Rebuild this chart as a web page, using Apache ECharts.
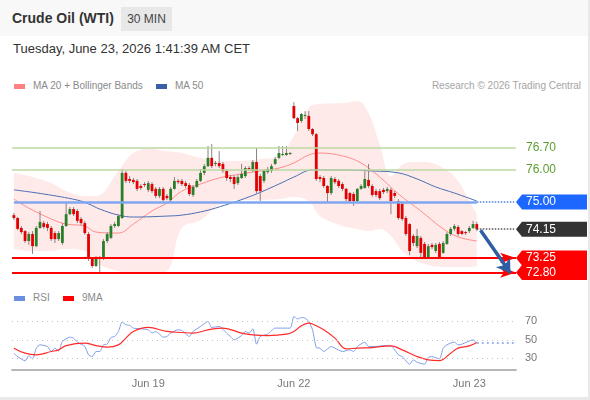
<!DOCTYPE html>
<html>
<head>
<meta charset="utf-8">
<script src="https://cdn.jsdelivr.net/npm/echarts@6/dist/echarts.min.js"></script>
<style>
html, body { margin: 0; padding: 0; width: 590px; height: 400px; overflow: hidden; background: #e9e9e9;
  font-family: "Liberation Sans", Arial, sans-serif; }
#card { position: absolute; left: 0; top: 0; width: 588px; height: 397px; background: #fff; }
#head { position: absolute; left: 0; top: 0; width: 588px; height: 36px; background: #f8f8f8; }
#title { position: absolute; left: 12px; top: 10px; font-size: 14px; font-weight: bold; color: #333; }
#badge { position: absolute; left: 121px; top: 7px; width: 51px; height: 24px; line-height: 24px; text-align: center;
  background: #e8e8e8; color: #444; font-size: 12px; }
#date { position: absolute; left: 13px; top: 41px; font-size: 13px; color: #333; }
.leg { position: absolute; font-size: 10px; color: #8a8a8a; line-height: 12px; }
.sw { position: absolute; width: 11px; height: 5px; }
#chart { position: absolute; left: 0; top: 0; width: 590px; height: 400px; }
</style>
</head>
<body>
<div id="card">
  <div id="head"></div>
  <div id="title">Crude Oil (WTI)</div>
  <div id="badge">30 MIN</div>
  <div id="date">Tuesday, June 23, 2026 1:41:39 AM CET</div>
  <div class="sw" style="left:14px;top:84px;background:#ff8080"></div>
  <div class="leg" style="left:33px;top:80px">MA 20 + Bollinger Bands</div>
  <div class="sw" style="left:156px;top:84px;background:#3b5ea8"></div>
  <div class="leg" style="left:175px;top:80px">MA 50</div>
  <div class="leg" style="right:7px;top:80px;color:#a5a5a5">Research © 2026 Trading Central</div>
  <div class="sw" style="left:14px;top:296px;background:#6b8ee0"></div>
  <div class="leg" style="left:33px;top:292px">RSI</div>
  <div class="sw" style="left:63px;top:296px;background:#ff0000"></div>
  <div class="leg" style="left:82px;top:292px">9MA</div>
</div>
<div id="chart"></div>
<script>
// 30 min bars: open, close, low, high
var candles = [
  [74.59,74.50,74.44,74.66],[74.50,74.16,74.12,74.53],[74.19,74.06,74.00,74.25],[74.09,73.78,73.72,74.12],
  [73.78,74.00,73.66,74.06],[74.00,73.62,73.38,74.09],[73.62,74.19,73.59,74.25],[74.19,74.38,74.16,74.72],
  [74.34,74.22,74.16,74.41],[74.31,74.19,74.09,74.38],[74.19,73.84,73.78,74.25],[74.03,73.84,73.72,74.09],
  [73.84,74.03,73.78,74.09],[73.72,74.25,73.66,74.34],[74.25,74.62,74.22,74.97],[74.62,74.78,74.59,74.84],
  [74.78,74.62,74.56,74.84],[74.72,74.41,74.34,74.78],[74.47,74.34,74.28,74.53],[74.34,74.03,73.97,74.41],
  [74.00,73.25,73.16,74.06],[73.25,73.00,72.94,73.28],[73.00,73.25,72.97,73.31],[73.25,73.22,72.78,73.31],
  [73.22,73.78,73.19,73.84],[73.78,74.00,73.72,74.06],[73.88,74.25,73.84,74.31],[74.25,74.31,74.19,74.38],
  [74.25,74.56,74.22,74.62],[74.50,75.91,74.47,76.03],[75.91,75.66,75.59,75.97],[75.72,75.66,75.59,75.81],
  [75.69,75.62,75.56,75.75],[75.66,75.41,75.34,75.72],[75.50,75.44,75.38,75.56],[75.56,75.53,75.47,75.62],
  [75.38,75.59,75.31,75.66],[75.56,75.34,75.28,75.62],[75.41,75.19,75.12,75.47],[75.19,75.41,75.12,75.47],
  [75.41,75.06,75.03,75.47],[75.19,75.12,75.06,75.25],[75.06,75.41,75.00,75.47],[75.41,75.66,75.38,75.78],
  [75.66,75.62,75.56,75.72],[75.66,75.56,75.50,75.72],[75.59,75.50,75.44,75.66],[75.53,75.25,75.19,75.59],
  [75.22,75.47,75.16,75.53],[75.47,75.66,75.44,75.72],[75.66,75.91,75.62,76.03],[75.91,76.12,75.84,76.19],
  [76.12,76.38,76.09,76.75],[76.38,76.12,76.06,76.81],[76.19,76.22,76.12,76.28],[76.22,76.12,76.06,76.59],
  [76.19,75.97,75.91,76.25],[75.97,75.75,75.66,76.03],[75.78,75.72,75.62,75.84],[75.78,75.56,75.41,75.84],
  [75.59,75.78,75.53,75.84],[75.75,75.88,75.72,76.19],[75.81,76.06,75.75,76.12],[76.06,76.03,75.97,76.12],
  [75.97,76.25,75.94,76.31],[76.25,75.34,75.28,76.69],[75.81,75.34,75.03,75.88],[75.66,75.97,75.59,76.03],
  [75.94,76.03,75.88,76.09],[75.97,76.12,75.91,76.19],[76.19,76.34,76.16,76.41],[76.38,76.53,76.34,76.75],
  [76.47,76.50,76.44,76.75],[76.47,76.53,76.44,76.75],[76.50,76.53,76.47,76.56],[78.00,77.62,77.59,78.12],
  [77.62,77.47,77.22,77.66],[77.53,77.75,77.47,77.78],[77.69,77.72,77.59,77.84],[77.69,77.28,77.22,77.84],
  [77.28,77.12,77.06,77.31],[77.12,75.72,75.66,77.16],[75.78,75.72,75.62,75.84],[75.75,75.50,75.44,75.81],
  [75.50,75.28,74.97,75.53],[75.28,75.75,75.22,75.81],[75.72,75.62,75.56,75.78],[75.66,75.50,75.44,75.72],
  [75.56,75.41,75.34,75.62],[75.41,75.09,75.03,75.44],[75.28,75.03,74.97,75.31],[75.25,75.03,74.88,75.31],
  [75.03,75.41,74.97,75.44],[75.41,75.50,75.38,75.56],[75.44,75.72,75.41,76.03],[75.69,75.50,75.44,76.19],
  [75.50,75.22,75.16,75.56],[75.34,75.22,75.16,75.41],[75.34,75.12,75.06,75.41],[75.38,75.31,75.25,75.44],
  [75.34,75.41,75.28,75.47],[75.38,75.03,74.62,75.44],[75.28,75.19,75.12,75.34],[75.03,74.50,74.44,75.09],
  [74.94,74.47,74.41,75.00],[74.50,74.00,73.94,74.56],[74.31,73.47,73.34,74.34],[73.94,73.72,73.62,74.00],
  [73.62,73.94,73.56,74.16],[73.88,73.41,73.25,73.94],[73.69,73.25,73.22,73.75],[73.25,73.62,73.22,73.69],
  [73.66,73.59,73.53,73.72],[73.47,73.66,73.41,73.72],[73.69,73.25,73.22,73.75],[73.41,73.72,73.38,73.78],
  [73.69,74.00,73.66,74.06],[74.00,74.16,73.94,74.22],[74.16,74.25,74.09,74.31],[74.22,74.00,73.94,74.28],
  [74.09,74.00,73.97,74.12],[74.06,74.03,73.97,74.09],[74.09,74.19,74.03,74.25],[74.19,74.31,74.16,74.41],
  [74.31,74.15,74.09,74.38]
];

// indicator readings: [bar index, value]
var ma20 = [[0,75.09],[4,74.81],[10,74.47],[14,74.31],[19,74.25],[22,74.06],[28,74.03],[32,74.31],[37,74.72],
  [41,74.97],[45,75.34],[50,75.56],[55,75.75],[61,75.88],[66,75.97],[71,76.06],[75,76.22],[79,76.47],[82,76.53],
  [88,76.44],[93,76.22],[98,75.78],[103,75.25],[109,74.72],[115,74.16],[119,73.91],[124,73.78]];
var ma50 = [[0,75.38],[8,75.25],[17,75.06],[20,74.94],[23,74.78],[28,74.59],[32,74.53],[41,74.56],[45,74.59],
  [50,74.69],[54,74.81],[63,75.16],[71,75.56],[75,75.78],[80,76.00],[88,76.00],[96,75.97],[103,75.91],[108,75.72],
  [113,75.47],[118,75.28],[124,75.03]];
var bbUpper = [[0,75.91],[4,75.81],[10,75.59],[14,75.34],[19,75.19],[22,75.19],[28,75.97],[32,76.53],[37,76.66],
  [41,76.59],[45,76.53],[50,76.38],[55,76.28],[61,76.28],[66,76.34],[71,76.44],[75,77.06],[79,77.94],[82,78.06],
  [88,78.09],[92,78.16],[95,77.78],[98,76.80],[101,75.81],[104,76.16],[107,76.25],[110,76.25],[115,76.06],
  [119,75.66],[122,75.03],[124,74.62]];
var bbLower = [[0,73.53],[4,73.47],[10,73.47],[14,73.53],[19,73.47],[22,73.09],[28,72.84],[32,72.78],[37,72.75],
  [41,72.84],[45,74.19],[50,74.44],[55,74.91],[61,75.06],[66,75.06],[71,75.09],[75,75.16],[79,75.03],[82,74.56],
  [88,74.25],[92,74.16],[95,74.09],[98,74.16],[101,73.94],[104,73.47],[107,73.22],[110,73.06],[115,72.97],
  [119,72.97],[122,72.97],[124,73.00]];

var rsi = [[0,35.6],[1,32],[3,27.3],[4,33],[5,29.5],[6,41],[7,44.6],[9,42.8],[10,37.4],[11,41],[12,38],[13,48.2],
  [15,52.9],[16,51.8],[17,47.5],[19,42.8],[20,33.8],[21,32],[22,37.4],[23,37.4],[24,44.6],[25,45.3],[26,52.5],
  [27,53.6],[28,59],[29,69.1],[30,66.2],[31,65.5],[32,62.6],[34,61.9],[36,60.8],[37,57.2],[38,59],[39,56.1],
  [40,52.9],[41,53.6],[42,57.2],[44,60.8],[45,60.1],[47,53.6],[48,59],[50,64.4],[52,69.8],[53,63.3],[55,64.4],
  [57,57.2],[58,53.6],[59,50],[61,54.6],[62,59],[63,57.2],[64,61.9],[65,45.3],[66,53.6],[68,56.1],[70,62.6],
  [74,62.6],[75,75.2],[76,72.4],[77,74],[78,73.4],[79,69.8],[80,60.8],[81,41.7],[82,41],[83,37.4],[85,42.8],
  [86,41],[88,37.4],[90,39.2],[91,37.4],[92,42.8],[94,47.5],[95,42.8],[97,42.8],[99,43.8],[101,43.5],[103,33.8],
  [104,32],[106,23.7],[107,28.4],[108,25.9],[110,23.7],[111,30.9],[112,32],[114,29.5],[115,41],[116,44.6],
  [118,47.5],[119,44.6],[120,45.3],[123,50],[124,46.4]];
var rsiMa = [[0,41],[3,35.6],[6,33.8],[10,37.4],[12,39.2],[14,43.8],[19,46.4],[22,43.8],[25,42.1],[28,44.6],
  [30,51.8],[32,59],[36,63.3],[41,59],[45,57.9],[48,57.2],[52,60.8],[56,62.6],[61,57.2],[64,55.4],[68,54.6],
  [73,56.1],[75,59],[77,65],[79,68],[80,67],[83,60.8],[86,51.8],[89,40.3],[92,41],[96,41.7],[101,43.5],
  [104,39.2],[108,32],[111,28.4],[114,27.6],[117,35.6],[119,41],[122,43.5],[124,47.1]];
var rsiLevels = [30, 50, 70];

var resistances = [76.70, 76.00];
var pivot = 75.00;
var lastPrice = 74.15;
var supports = [73.25, 72.80];
var targetPath = [[125, 74.12], [133, 72.78]];

var slotCount = 135;
var dateTicks = {36: 'Jun 19', 75: 'Jun 22', 122: 'Jun 23'};

var slots = [];
for (var k = 0; k < slotCount; k++) slots.push(String(k));
var lastIdx = candles.length - 1;

function renderCandle(params, api) {
    var idx = api.value(0);
    var o = api.coord([idx, api.value(1)]);
    var c = api.coord([idx, api.value(2)]);
    var l = api.coord([idx, api.value(3)]);
    var h = api.coord([idx, api.value(4)]);
    var w = api.size([1, 0])[0] * 0.75;
    var up = api.value(2) >= api.value(1);
    var top = Math.min(o[1], c[1]);
    return {
        type: 'group',
        children: [
            {type: 'line', shape: {x1: h[0], y1: h[1], x2: l[0], y2: l[1]},
             style: {stroke: '#8c8282', lineWidth: 1}},
            {type: 'rect', shape: {x: o[0] - w / 2, y: top, width: w, height: Math.max(Math.abs(o[1] - c[1]), 1)},
             style: {fill: up ? '#2a7f2a' : '#e30000'}}
        ]
    };
}

var bandWidth = bbUpper.map(function (p, k) { return [p[0], +(p[1] - bbLower[k][1]).toFixed(2)]; });

var option = {
    animation: false,
    grid: [
        {left: 12, right: 74, top: 96, height: 185},
        {left: 12, right: 74, top: 305, height: 65}
    ],
    xAxis: [
        {type: 'category', gridIndex: 0, data: slots, show: false},
        {type: 'category', gridIndex: 1, data: slots,
         axisLine: {onZero: false, lineStyle: {color: '#b8b8b8', width: 2}},
         axisTick: {show: false},
         axisLabel: {
             interval: function (i) { return dateTicks[i] !== undefined; },
             formatter: function (v, i) { return dateTicks[i] || ''; },
             color: '#777', fontSize: 11, margin: 8, fontFamily: 'Liberation Sans'
         }}
    ],
    yAxis: [
        {type: 'value', gridIndex: 0, min: 72.53125, max: 78.3125, show: false},
        {type: 'value', gridIndex: 1, min: 17.5, max: 87.5, position: 'right',
         axisLine: {show: false}, axisTick: {show: false}, splitLine: {show: false},
         axisLabel: {customValues: rsiLevels, color: '#777', fontSize: 11, margin: 9, fontFamily: 'Liberation Sans'}}
    ],
    series: [
        {type: 'line', data: bbLower, stack: 'bb', smooth: 0.4, symbol: 'none', silent: true,
         lineStyle: {width: 0}, z: 1},
        {type: 'line', data: bandWidth, stack: 'bb', smooth: 0.4, symbol: 'none', silent: true,
         lineStyle: {width: 0}, areaStyle: {color: 'rgba(255,196,196,0.5)'}, z: 1},
        {type: 'line', data: ma20, smooth: 0.4, symbol: 'none', lineStyle: {color: '#ff8c8c', width: 1}, z: 2},
        {type: 'line', data: ma50, smooth: 0.4, symbol: 'none', lineStyle: {color: '#4a6db2', width: 1}, z: 2,
         markLine: {
             silent: true, symbol: 'none', label: {show: false},
             data: [
                 {yAxis: resistances[0], lineStyle: {color: '#bcd8a0', width: 1.5, type: 'solid'}},
                 {yAxis: resistances[1], lineStyle: {color: '#bcd8a0', width: 1.5, type: 'solid'}},
                 [{coord: [0, pivot], lineStyle: {color: '#80a6f2', width: 2.5, type: 'solid'}}, {coord: [lastIdx, pivot]}],
                 [{coord: [lastIdx, pivot], lineStyle: {color: '#4f7fe0', width: 1.5, type: 'dotted'}}, {coord: [slotCount - 1, pivot]}],
                 [{coord: [lastIdx, lastPrice], lineStyle: {color: '#555', width: 1.5, type: 'dotted'}}, {coord: [slotCount - 1, lastPrice]}]
             ]
         }},
        {type: 'custom', data: candles.map(function (d, i) { return [i, d[0], d[1], d[2], d[3]]; }),
         renderItem: renderCandle, encode: {x: 0, y: [1, 2, 3, 4]}, z: 4},
        {type: 'line', data: [], z: 6,
         markLine: {
             silent: true, label: {show: false},
             data: [
                 {yAxis: supports[0], symbol: 'none', lineStyle: {color: '#ff0000', width: 2, type: 'solid'}},
                 {yAxis: supports[1], symbol: 'none', lineStyle: {color: '#ff0000', width: 2, type: 'solid'}},
                 [{coord: targetPath[0], symbol: 'none', lineStyle: {color: '#2f5da3', width: 3.5, type: 'solid'}},
                  {coord: targetPath[1], symbol: 'arrow', symbolSize: 13}]
             ]
         }},
        {type: 'line', xAxisIndex: 1, yAxisIndex: 1, data: rsi, smooth: 0.2, symbol: 'none',
         lineStyle: {color: '#7f9de8', width: 1}, z: 3,
         markLine: {
             silent: true, symbol: 'none', label: {show: false},
             data: rsiLevels.map(function (v) {
                 return {yAxis: v, lineStyle: {color: '#c4c4c4', width: 1, type: [1, 4]}};
             }).concat([[{coord: [lastIdx, rsi[rsi.length - 1][1]], lineStyle: {color: '#7f9de8', width: 1.5, type: [2, 3]}},
                         {coord: [slotCount - 1, rsi[rsi.length - 1][1]]}]])
         }},
        {type: 'line', xAxisIndex: 1, yAxisIndex: 1, data: rsiMa, smooth: 0.4, symbol: 'none',
         lineStyle: {color: '#ff2a2a', width: 1.2}, z: 3}
    ]
};

var chart = echarts.init(document.getElementById('chart'), null, {renderer: 'canvas'});
chart.setOption(option);

// price tags on the right, placed from the price scale
function priceY(v) { return chart.convertToPixel({yAxisIndex: 0}, v); }
var tagX = 516, tagRight = 587, half = 7.5;
var graphics = [];
resistances.forEach(function (v) {
    graphics.push({type: 'text', x: 526, y: priceY(v), style: {text: v.toFixed(2), fill: '#5c9e2e',
        font: '12px "Liberation Sans", Arial', verticalAlign: 'middle'}});
});
function tag(v, color) {
    var y = priceY(v);
    graphics.push({type: 'polygon', shape: {points: [[tagX, y], [tagX + 6, y - half], [tagRight, y - half],
        [tagRight, y + half], [tagX + 6, y + half]]}, style: {fill: color}});
    graphics.push({type: 'text', x: 526, y: y, style: {text: v.toFixed(2), fill: '#fff',
        font: '12px "Liberation Sans", Arial', verticalAlign: 'middle'}});
}
tag(supports[1], '#ff0000');
tag(supports[0], '#ff0000');
tag(pivot, '#1c68ff');
tag(lastPrice, '#333333');
chart.setOption({graphic: graphics});
</script>
</body>
</html>
